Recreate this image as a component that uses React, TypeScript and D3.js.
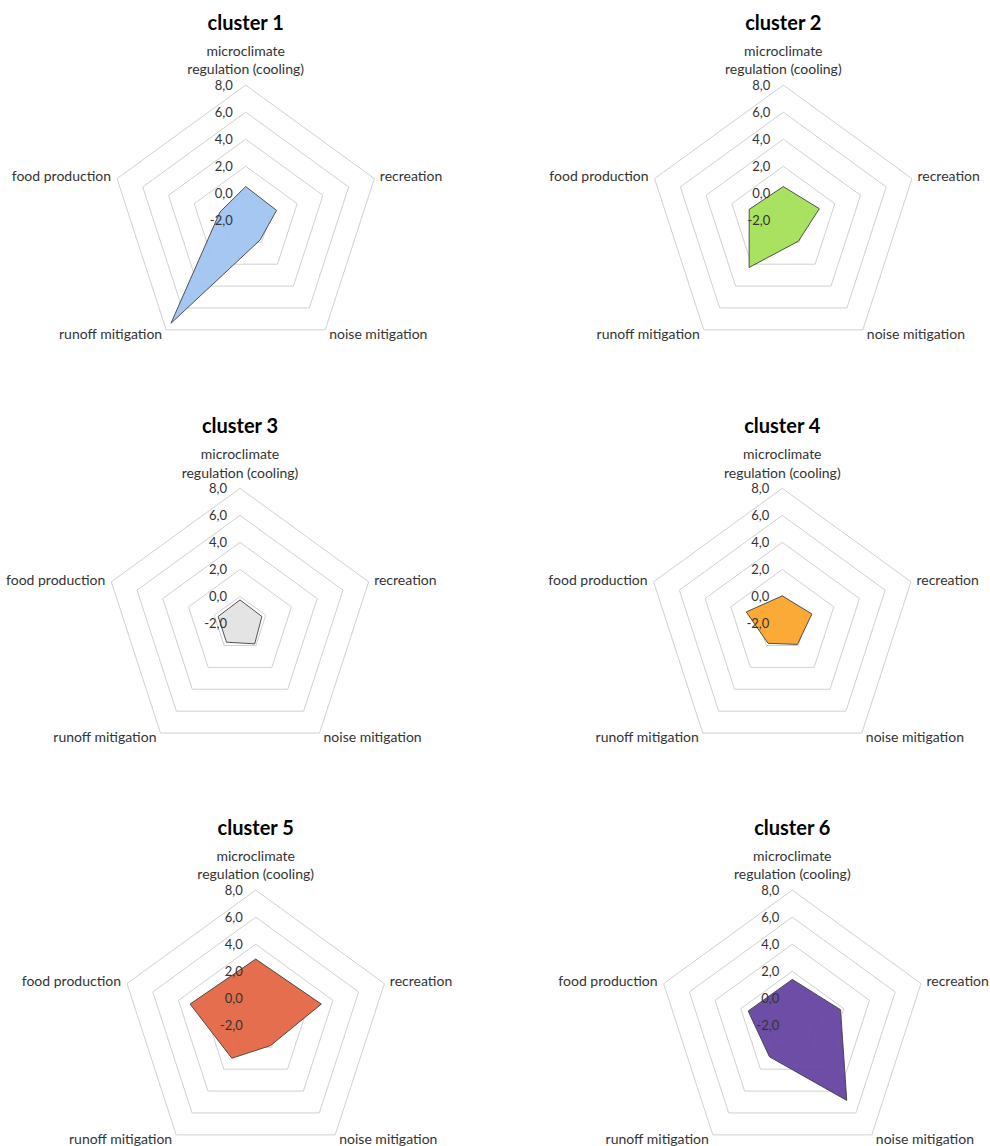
import React, { useRef, useEffect } from "react";
import * as d3 from "d3";

// axes of every radar, clockwise from the top
const categories = [
  ["microclimate", "regulation (cooling)"],
  ["recreation"],
  ["noise mitigation"],
  ["runoff mitigation"],
  ["food production"],
];

const clusterNames = ["cluster 1", "cluster 2", "cluster 3", "cluster 4", "cluster 5", "cluster 6"];

// values per axis (same order as categories)
const cluster1 = [0.5, 0.4, -0.2, 7.4, 0.0];
const cluster2 = [0.5, 0.8, -0.1, 2.3, 0.65];
const cluster3 = [-0.25, -0.3, -0.15, -0.3, -0.3];
const cluster4 = [0.05, 0.3, -0.1, -0.2, 0.8];
const cluster5 = [2.9, 3.1, -0.15, 1.0, 3.1];
const cluster6 = [1.4, 1.75, 4.85, 0.87, 1.43];

const tickValues = [-2, 0, 2, 4, 6, 8];
const tickLabels = ["-2,0", "0,0", "2,0", "4,0", "6,0", "8,0"];

const fills = ["#9ec3f0", "#a3df55", "#e2e2e2", "#fba328", "#e2633f", "#62409f"];

// chart centres on the page
const centers = [
  [245.7, 220.4], [783.3, 220.4],
  [240, 623.6], [782.3, 623.6],
  [255.7, 1025.4], [792.3, 1025.4],
];

const R = 135.3;
const FONT = "Lato, 'Open Sans', sans-serif";

function App() {
  const svgRef = useRef(null);

  useEffect(() => {
    const svg = d3.select(svgRef.current);
    svg.selectAll("*").remove();

    const data = [cluster1, cluster2, cluster3, cluster4, cluster5, cluster6];
    const r = d3.scaleLinear().domain([-2, 8]).range([0, R]);
    const angle = d3.scaleLinear().domain([0, categories.length]).range([0, 2 * Math.PI]);
    const radial = d3.lineRadial<number>()
      .angle((d, i) => angle(i))
      .radius(d => r(d))
      .curve(d3.curveLinearClosed);

    data.forEach((values, ci) => {
      const [cx, cy] = centers[ci];
      const g = svg.append("g").attr("transform", `translate(${cx},${cy})`);

      // grid pentagons (center is -2)
      g.selectAll(".grid")
        .data(tickValues.slice(1))
        .join("path")
        .attr("d", v => radial(categories.map(() => v)))
        .attr("fill", "none")
        .attr("stroke", "#d0d0d0")
        .attr("stroke-width", 1);

      // series polygon
      g.append("path")
        .attr("d", radial(values))
        .attr("fill", fills[ci])
        .attr("fill-opacity", 0.93)
        .attr("stroke", "#404040")
        .attr("stroke-width", 0.9)
        .attr("stroke-linejoin", "miter");

      // tick labels along the top axis
      g.selectAll(".tick")
        .data(tickValues)
        .join("text")
        .attr("x", -13)
        .attr("y", v => -r(v))
        .attr("dy", "0.35em")
        .attr("text-anchor", "end")
        .attr("font-family", FONT)
        .attr("font-size", 13)
        .attr("fill", "#333")
        .text((v, i) => tickLabels[i]);

      // category labels
      categories.forEach((lines, i) => {
        const a = angle(i);
        const vx = Math.sin(a) * R;
        const vy = -Math.cos(a) * R;
        const t = g.append("text")
          .attr("font-family", FONT)
          .attr("font-size", 14)
          .attr("fill", "#333");
        if (i === 0) {
          t.attr("text-anchor", "middle");
          lines.forEach((ln, k) => {
            t.append("tspan")
              .attr("x", 0)
              .attr("y", vy - 34.3 + k * 18.6)
              .attr("dy", "0.35em")
              .text(ln);
          });
        } else {
          const right = vx > 0;
          const bottom = vy > 0;
          t.attr("x", right ? vx + (bottom ? 4 : 5.5) : vx - (bottom ? 4 : 6))
            .attr("y", bottom ? vy + 4 : vy - 2)
            .attr("dy", "0.35em")
            .attr("text-anchor", right ? "start" : "end")
            .text(lines[0]);
        }
      });

      // title
      g.append("text")
        .attr("x", 0)
        .attr("y", -R - 62)
        .attr("dy", "0.35em")
        .attr("text-anchor", "middle")
        .attr("font-family", FONT)
        .attr("font-size", 20)
        .attr("font-weight", "bold")
        .attr("fill", "#000")
        .text(clusterNames[ci]);
    });
  }, []);

  return (
    <svg
      ref={svgRef}
      width={990}
      height={1146}
      style={{ position: "absolute", left: 0, top: 0, background: "#fff" }}
    />
  );
}

export default App;
